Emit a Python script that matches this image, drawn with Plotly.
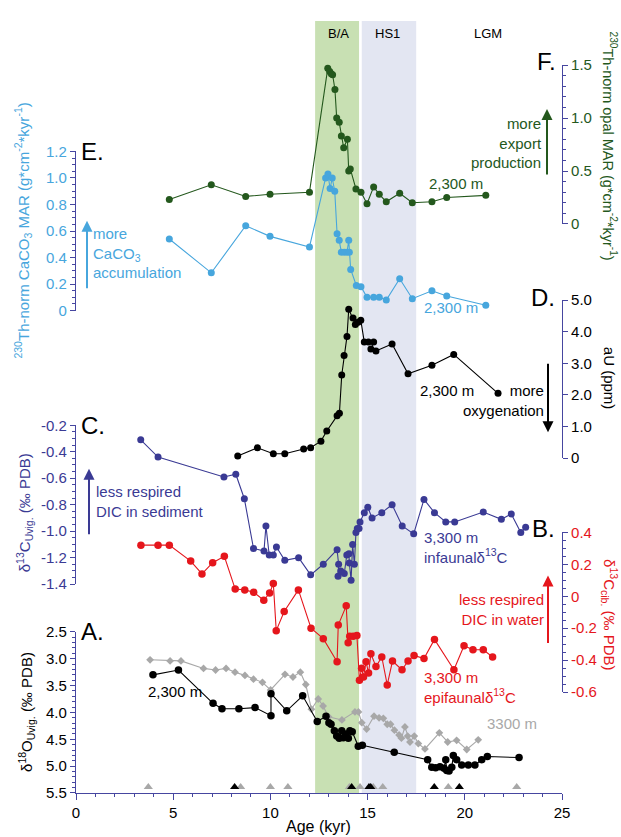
import plotly.graph_objects as go

# ---------------- data ----------------
# F: 230Th-normalised opal MAR, 2,300 m (g cm-2 kyr-1)
opal_age = [4.80, 6.96, 8.73, 9.98, 12.01, 12.95, 13.05, 13.13, 13.20, 13.32, 13.41, 13.54, 13.65, 13.77,
            13.96, 14.03, 14.11, 14.40, 14.66, 14.97, 15.31, 15.60, 15.96, 16.65, 17.30, 18.31, 19.07, 21.08]
opal_val = [0.23, 0.37, 0.26, 0.28, 0.30, 1.47, 1.44, 1.42, 1.41, 1.27, 1.00, 0.96, 0.83, 0.72,
            0.80, 0.50, 0.52, 0.33, 0.30, 0.19, 0.35, 0.28, 0.21, 0.29, 0.20, 0.21, 0.25, 0.27]

# E: 230Th-normalised CaCO3 MAR, 2,300 m
caco3_age = [4.80, 6.96, 8.73, 9.98, 12.01, 12.84, 12.96, 13.07, 13.18, 13.31, 13.43, 13.54, 13.65, 13.80,
             13.94, 14.03, 14.06, 14.13, 14.42, 14.66, 14.97, 15.31, 15.60, 15.96, 16.65, 17.30, 18.31,
             19.07, 21.08]
caco3_val = [0.54, 0.285, 0.64, 0.56, 0.48, 1.00, 1.03, 0.92, 1.00, 0.90, 0.58, 0.53, 0.44, 0.44,
             0.44, 0.53, 0.44, 0.31, 0.19, 0.18, 0.10, 0.10, 0.10, 0.08, 0.24, 0.09, 0.15,
             0.11, 0.04]

# D: authigenic U, 2,300 m (ppm)
au_age = [8.32, 9.33, 10.15, 10.74, 11.71, 12.07, 12.60, 12.90, 13.43, 13.55, 13.67, 13.79, 13.94, 14.03,
          14.25, 14.37, 14.51, 14.65, 14.83, 15.04, 15.31, 15.17, 15.43, 16.26, 17.08, 18.31, 19.43, 21.71]
au_val = [0.07, 0.33, 0.14, 0.14, 0.29, 0.33, 0.54, 0.86, 1.34, 1.42, 2.63, 3.25, 3.85, 4.71,
          4.43, 4.23, 4.30, 4.36, 3.67, 3.67, 3.67, 3.45, 3.39, 3.61, 2.67, 2.94, 3.28, 2.05]

# C: infaunal d13C (Uvigerina), 3,300 m
uvig13_age = [3.33, 4.22, 7.61, 8.22, 8.66, 9.13, 9.67, 9.77, 9.94, 10.15, 10.31, 10.74, 11.45, 12.07,
              12.72, 13.43, 13.51, 13.48, 13.62, 13.80, 13.93, 14.04, 14.06, 14.15, 14.23, 14.32, 14.40,
              14.47, 14.56, 14.61, 14.83, 15.01, 15.23, 15.73, 16.26, 16.78, 17.37, 17.90, 18.44, 19.02,
              19.48, 20.95, 21.88, 22.39, 22.88, 23.13]
uvig13_val = [-0.31, -0.44, -0.59, -0.57, -0.755, -1.13, -1.15, -0.96, -1.18, -1.18, -1.12, -1.22, -1.20, -1.33,
              -1.25, -1.14, -1.25, -1.34, -1.30, -1.32, -1.18, -1.17, -1.24, -1.37, -1.10, -1.25, -1.01,
              -0.98, -0.98, -0.93, -0.86, -0.82, -0.90, -0.86, -0.80, -0.96, -1.02, -0.76, -0.86, -0.93,
              -0.93, -0.855, -0.91, -0.87, -1.01, -0.97]

# B: epifaunal d13C (Cibicidoides), 3,300 m
cib13_age = [3.34, 4.22, 4.80, 5.90, 6.48, 7.03, 7.63, 8.19, 8.68, 9.14, 9.66, 9.96, 10.15, 10.30, 10.71,
             11.44, 12.09, 12.72, 13.43, 13.49, 13.90, 14.00, 14.08, 14.26, 14.45, 14.58, 14.69, 14.79,
             14.92, 15.05, 15.17, 15.43, 15.73, 16.01, 16.28, 16.77, 17.08, 17.39, 17.90, 18.44, 19.44,
             19.96, 20.42, 20.95, 21.43]
cib13_val = [0.32, 0.32, 0.32, 0.22, 0.14, 0.21, 0.25, 0.045, 0.04, 0.025, -0.025, 0.02, 0.08, -0.215, -0.095,
             0.04, -0.20, -0.265, -0.41, -0.18, -0.06, -0.29, -0.25, -0.25, -0.245, -0.525, -0.45, -0.505,
             -0.41, -0.48, -0.36, -0.44, -0.38, -0.555, -0.405, -0.46, -0.405, -0.37, -0.39, -0.27, -0.46,
             -0.31, -0.335, -0.335, -0.38]

# A: d18O Uvigerina, 2,300 m
o18_2300_age = [3.96, 5.27, 7.05, 7.51, 8.38, 9.21, 10.03, 10.03, 10.84, 11.66, 12.41, 12.86, 13.01, 13.12,
                13.29, 13.41, 13.54, 13.67, 13.75, 13.89, 14.01, 14.09, 14.21, 14.52, 14.73, 16.37, 18.09,
                18.30, 18.50, 18.72, 18.93, 19.02, 19.07, 19.19, 19.33, 19.41, 19.58, 19.84, 20.18, 20.52,
                20.87, 21.16, 22.79]
o18_2300_val = [3.30, 3.21, 3.83, 3.93, 3.93, 3.91, 4.06, 3.65, 3.97, 3.69, 4.17, 4.07, 4.19, 4.22,
                4.34, 4.44, 4.48, 4.34, 4.47, 4.40, 4.48, 4.34, 4.36, 4.63, 4.61, 4.74, 4.88,
                5.02, 5.03, 5.01, 5.04, 4.88, 5.08, 5.09, 5.02, 4.80, 4.88, 4.98, 4.98, 4.98,
                4.88, 4.82, 4.84]

# A: d18O Uvigerina, 3,300 m
o18_3300_age = [3.81, 4.84, 5.40, 6.56, 7.18, 7.72, 8.18, 8.69, 9.13, 9.59, 10.01, 10.75, 11.16, 11.54,
                11.82, 12.11, 12.46, 12.71, 12.99, 13.68, 14.35, 14.53, 14.70, 14.95, 15.33, 15.59, 15.81,
                16.01, 16.18, 16.38, 16.62, 16.74, 16.92, 17.06, 17.18, 17.40, 17.61, 17.95, 18.69, 19.12,
                19.58, 20.10, 20.69]
o18_3300_val = [3.02, 3.04, 3.04, 3.18, 3.21, 3.18, 3.25, 3.31, 3.38, 3.44, 3.58, 3.29, 3.34, 3.25,
                3.48, 3.94, 3.75, 3.88, 4.08, 4.14, 3.99, 3.99, 4.19, 4.31, 4.07, 4.10, 4.11,
                4.22, 4.22, 4.33, 4.42, 4.48, 4.27, 4.44, 4.55, 4.44, 4.58, 4.68, 4.38, 4.55,
                4.52, 4.69, 4.51]

# age-control points (triangles)
tie_2300 = [8.16, 14.18, 15.07, 15.16, 18.43, 19.72]
tie_3300 = [3.72, 8.47, 10.0, 10.9, 14.06, 14.61, 15.29, 15.78, 19.15, 22.67]
tie_level = 5.39

# climate intervals
ba_start, ba_end = 12.3, 14.56
hs1_start, hs1_end = 14.7, 17.5

x_ticks = [0, 5, 10, 15, 20, 25]
a_ticks = [2.5, 3.0, 3.5, 4.0, 4.5, 5.0, 5.5]
b_ticks = [0.4, 0.2, 0.0, -0.2, -0.4, -0.6]
b_text = ["0.4", "0.2", "0", "-0.2", "-0.4", "-0.6"]
c_ticks = [-0.2, -0.4, -0.6, -0.8, -1.0, -1.2, -1.4]
d_ticks = [5, 4, 3, 2, 1, 0]
d_text = ["5.0", "4.0", "3.0", "2.0", "1.0", "0"]
e_ticks = [1.2, 1.0, 0.8, 0.6, 0.4, 0.2, 0]
e_text = ["1.2", "1.0", "0.8", "0.6", "0.4", "0.2", "0"]
f_ticks = [1.5, 1.0, 0.5, 0]
f_text = ["1.5", "1.0", "0.5", "0"]

# ---------------- style ----------------
FONT = "Liberation Sans, Arial, Helvetica, sans-serif"
AXIS = "#4646a0"
PURPLE = "#3a3a94"
GREEN = "#24581d"
LBLUE = "#47a6dd"
RED = "#e5161c"
GREY = "#a8a8a8"
BLACK = "#000000"

W, H = 621, 837
LEFT, RIGHT, TOP, BOTTOM = 76, 562, 12, 793   # plot area in pixels
ML, MR, MT, MB = LEFT, W - RIGHT, TOP, H - BOTTOM
PW = RIGHT - LEFT
PH = BOTTOM - TOP


def px(x):
    return (x - LEFT) / PW


def py(y):
    return (BOTTOM - y) / PH


fig = go.Figure()


def series(x, y, yaxis, color, size=7, symbol="circle", lw=1.1):
    fig.add_trace(go.Scatter(
        x=x, y=y, xaxis="x", yaxis=yaxis, mode="lines+markers",
        line=dict(color=color, width=lw),
        marker=dict(color=color, size=size, symbol=symbol, line=dict(width=0)),
        cliponaxis=False, showlegend=False, hoverinfo="skip"))


series(o18_3300_age, o18_3300_val, "y", GREY, size=6, symbol="diamond")
series(o18_2300_age, o18_2300_val, "y", BLACK, size=7.5)
fig.add_trace(go.Scatter(x=tie_3300, y=[tie_level] * len(tie_3300), xaxis="x", yaxis="y", mode="markers",
                         marker=dict(symbol="triangle-up", size=8, color=GREY), cliponaxis=False,
                         showlegend=False, hoverinfo="skip"))
fig.add_trace(go.Scatter(x=tie_2300, y=[tie_level] * len(tie_2300), xaxis="x", yaxis="y", mode="markers",
                         marker=dict(symbol="triangle-up", size=8, color=BLACK), cliponaxis=False,
                         showlegend=False, hoverinfo="skip"))
series(cib13_age, cib13_val, "y2", RED, size=7.5)
series(uvig13_age, uvig13_val, "y3", PURPLE, size=7)
series(au_age, au_val, "y4", BLACK, size=7)
series(caco3_age, caco3_val, "y5", LBLUE, size=7)
series(opal_age, opal_val, "y6", GREEN, size=7)


def yax(domain, rng, tickvals, ticktext, minor, side, labelcolor):
    d = dict(domain=domain, range=rng, tickmode="array", tickvals=tickvals, ticktext=ticktext,
             showline=True, linecolor=AXIS, linewidth=1.2, ticks="outside", ticklen=5, tickwidth=1.2,
             tickcolor=AXIS, tickfont=dict(color=labelcolor, size=15, family=FONT), showgrid=False,
             zeroline=False, side=side, anchor="x", fixedrange=True)
    if minor:
        d["minor"] = dict(tickmode="linear", tick0=0, dtick=minor, ticks="outside", ticklen=3,
                          tickwidth=1, tickcolor=AXIS, showgrid=False)
    return d


shapes = [
    dict(type="rect", xref="x", yref="paper", x0=ba_start, x1=ba_end, y0=0, y1=1,
         fillcolor="#c8e0b3", line=dict(width=0), layer="below"),
    dict(type="rect", xref="x", yref="paper", x0=hs1_start, x1=hs1_end, y0=0, y1=1,
         fillcolor="#e3e6f2", line=dict(width=0), layer="below"),
]

annotations = []


def ann(text, x, y, color, size=15, xanchor="left", yanchor="middle", angle=0, align="left"):
    annotations.append(dict(text=text, x=px(x), y=py(y), xref="paper", yref="paper", showarrow=False,
                            font=dict(color=color, size=size, family=FONT), xanchor=xanchor,
                            yanchor=yanchor, textangle=angle, align=align))


def arrow(x, y_head, y_tail, color):
    annotations.append(dict(text="", x=px(x), y=py(y_head), xref="paper", yref="paper", showarrow=True,
                            ax=0, ay=y_tail - y_head, axref="pixel", ayref="pixel",
                            arrowhead=2, arrowsize=1.1, arrowwidth=2, arrowcolor=color))


# axis titles
ann("<sup>230</sup>Th-norm CaCO<sub>3</sub> MAR (g*cm<sup>-2</sup>*kyr<sup>-1</sup>)", 23, 224, LBLUE,
    angle=-90, xanchor="center")
ann("<sup>230</sup>Th-norm opal MAR (g*cm<sup>-2</sup>*kyr<sup>-1</sup>)", 610, 138, GREEN, angle=90,
    xanchor="center", size=14.5)
ann("aU (ppm)", 609, 373, BLACK, angle=90, xanchor="center")
ann("δ<sup>13</sup>C<sub>Uvig.</sub> (‰ PDB)", 24, 510, PURPLE, angle=-90, xanchor="center")
ann("δ<sup>13</sup>C<sub>cib.</sub> (‰ PDB)", 610, 612, RED, angle=90, xanchor="center")
ann("δ<sup>18</sup>O<sub>Uvig.</sub> (‰ PDB)", 27, 711, BLACK, angle=-90, xanchor="center")
ann("Age (kyr)", 318, 827, BLACK, size=16, xanchor="center")

# panel letters
ann("E.", 79, 144, BLACK, size=24)
ann("F.", 558, 53, BLACK, size=24, xanchor="right")
ann("D.", 557, 292, BLACK, size=24, xanchor="right")
ann("C.", 79, 421, BLACK, size=24)
ann("B.", 557, 525, BLACK, size=24, xanchor="right")
ann("A.", 79, 630, BLACK, size=24)

# interval labels
ann("B/A", 338, 25, BLACK, size=13, xanchor="center")
ann("HS1", 387, 25, BLACK, size=13, xanchor="center")
ann("LGM", 488, 25, BLACK, size=13, xanchor="center")

# explanatory notes
ann("more<br>CaCO<sub>3</sub><br>accumulation", 91, 247, LBLUE)
arrow(87, 214, 283, LBLUE)
ann("more<br>export<br>production", 544, 135, GREEN, xanchor="right", align="right")
arrow(547, 101, 168, GREEN)
ann("more<br>oxygenation", 546, 396, BLACK, xanchor="right", align="right")
arrow(548, 428, 358, BLACK)
ann("less respired<br>DIC in sediment", 94, 498, PURPLE)
arrow(89, 465, 532, PURPLE)
ann("less respired<br>DIC in water", 546, 607, RED, xanchor="right", align="right")
arrow(548, 573, 642, RED)

# series labels
ann("2,300 m", 427, 176, GREEN)
ann("2,300 m", 422, 302, LBLUE)
ann("2,300 m", 418, 386, BLACK)
ann("3,300 m<br>infaunalδ<sup>13</sup>C", 422, 545, PURPLE)
ann("3,300 m<br>epifaunalδ<sup>13</sup>C", 422, 686, RED)
ann("3300 m", 485, 723, GREY)
ann("2,300 m", 146, 690, BLACK)

fig.update_layout(
    width=W, height=H, margin=dict(l=ML, r=MR, t=MT, b=MB, pad=0),
    paper_bgcolor="white", plot_bgcolor="rgba(0,0,0,0)",
    font=dict(family=FONT, size=15, color=BLACK),
    showlegend=False,
    xaxis=dict(domain=[0, 1], range=[0, 25], anchor="y", tickmode="array", tickvals=x_ticks,
               showline=True, linecolor=AXIS, linewidth=1.2, ticks="outside", ticklen=6, tickwidth=1.2,
               tickcolor=AXIS, tickfont=dict(size=15, color=BLACK, family=FONT), showgrid=False,
               zeroline=False, fixedrange=True,
               minor=dict(tickmode="linear", tick0=0, dtick=1, ticks="outside", ticklen=3, tickwidth=1,
                          tickcolor=AXIS, showgrid=False)),
    yaxis=yax([0, py(630)], [5.5, 2.5], a_ticks, [f"{v:.1f}" for v in a_ticks], 0.1, "left", BLACK),
    yaxis2=yax([py(691), py(529.3)], [-0.6, 0.4], b_ticks, b_text, 0.05, "right", RED),
    yaxis3=yax([py(581.7), py(421)], [-1.4, -0.2], c_ticks, [f"{v:.1f}" for v in c_ticks], 0.05, "left",
               PURPLE),
    yaxis4=yax([py(454.3), py(294.3)], [0, 5], d_ticks, d_text, None, "right", BLACK),
    yaxis5=yax([py(305), py(144)], [0, 1.2], e_ticks, e_text, 0.05, "left", LBLUE),
    yaxis6=yax([py(217.3), py(56.7)], [0, 1.5], f_ticks, f_text, 0.1, "right", GREEN),
    shapes=shapes,
    annotations=annotations,
)

fig.write_html("out.html", config={"displayModeBar": False},
               post_script="document.body.style.margin='0px';document.body.style.overflow='hidden';")
